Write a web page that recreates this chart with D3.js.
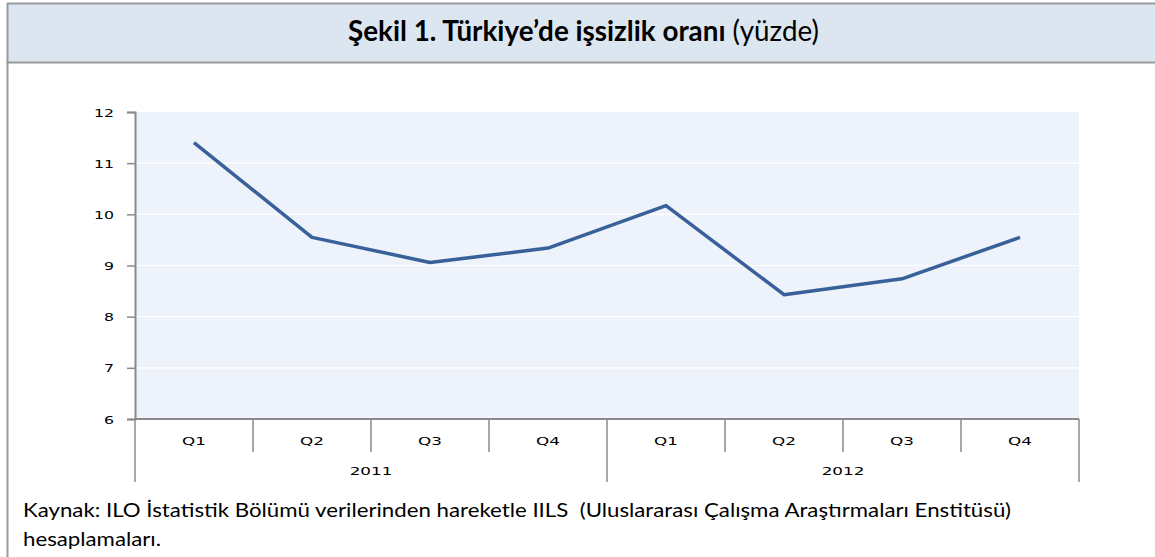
<!DOCTYPE html>
<html>
<head>
<meta charset="utf-8">
<script src="https://cdn.jsdelivr.net/npm/d3@7"></script>
<style>
  body { margin: 0; background: #fff; }
  svg { display: block; }
  text { white-space: pre; }
</style>
</head>
<body>
<div id="chart"></div>
<script>
const width = 1155;
const height = 557;

// data
const quarters = ['Q1', 'Q2', 'Q3', 'Q4', 'Q1', 'Q2', 'Q3', 'Q4'];
const years = ['2011', '2012'];
const rates = [11.4, 9.55, 9.06, 9.34, 10.17, 8.43, 8.74, 9.55];
const yTicks = [6, 7, 8, 9, 10, 11, 12];
const titleBold = 'Şekil 1. Türkiye’de işsizlik oranı';
const titleRest = ' (yüzde)';
const sourceLines = [
  'Kaynak: ILO İstatistik Bölümü verilerinden hareketle IILS  (Uluslararası Çalışma Araştırmaları Enstitüsü)',
  'hesaplamaları.'
];

const svg = d3.select('#chart').append('svg')
  .attr('width', width)
  .attr('height', height);

// frame + title band
svg.append('rect')
  .attr('x', 7.5).attr('y', 3.5)
  .attr('width', width).attr('height', 59)
  .attr('fill', '#dce6f1')
  .attr('stroke', '#9a9a9a')
  .attr('stroke-width', 2);
svg.append('line')
  .attr('x1', 7.5).attr('x2', 7.5)
  .attr('y1', 62).attr('y2', height)
  .attr('stroke', '#9a9a9a')
  .attr('stroke-width', 2);

const title = svg.append('g');
const titleText = title.append('text')
  .attr('font-family', 'Lato, sans-serif')
  .attr('font-size', 21)
  .attr('fill', '#000')
  .attr('text-anchor', 'middle');
titleText.append('tspan').attr('font-weight', 'bold').text(titleBold);
titleText.append('tspan').text(titleRest);
const tw = titleText.node().getComputedTextLength();
title.attr('transform', `translate(583.5,41) scale(${471 / tw},1.4)`);

// plot
const margin = {top: 112, left: 135, right: 1079, bottom: 419};
const x = d3.scaleBand().domain(d3.range(quarters.length)).range([margin.left, margin.right]);
const y = d3.scaleLinear().domain([6, 12]).range([margin.bottom, margin.top]);

svg.append('rect')
  .attr('x', margin.left).attr('y', margin.top)
  .attr('width', margin.right - margin.left)
  .attr('height', margin.bottom - margin.top)
  .attr('fill', '#eef2fa');

svg.append('g').selectAll('line')
  .data(yTicks.slice(1, -1))
  .join('line')
  .attr('x1', margin.left).attr('x2', margin.right)
  .attr('y1', (d) => y(d)).attr('y2', (d) => y(d))
  .attr('stroke', '#fff')
  .attr('stroke-width', 1.2);

const axisColor = '#8a8a8a';

// y axis
const yaxis = d3.axisLeft(y).tickValues(yTicks).tickFormat(d3.format('d')).tickSize(8);
const gy = svg.append('g')
  .attr('transform', `translate(${margin.left},0)`)
  .call(yaxis);
gy.select('.domain').attr('stroke', axisColor).attr('stroke-width', 2);
gy.selectAll('.tick line').attr('stroke', axisColor).attr('stroke-width', 1.5);
gy.selectAll('.tick text')
  .attr('x', null).attr('dy', null).attr('y', 4)
  .attr('transform', 'translate(-21,0) scale(1.5,1)')
  .attr('font-family', 'DejaVu Sans, sans-serif')
  .attr('font-size', 10.5)
  .attr('fill', '#000')
  .attr('text-anchor', 'end');

// x axis: category boundaries
const gx = svg.append('g');
gx.append('line')
  .attr('x1', margin.left).attr('x2', margin.right)
  .attr('y1', margin.bottom).attr('y2', margin.bottom)
  .attr('stroke', axisColor).attr('stroke-width', 2);
const bounds = d3.range(quarters.length + 1);
gx.selectAll('.bound').data(bounds).join('line')
  .attr('class', 'bound')
  .attr('x1', (i) => margin.left + i * x.bandwidth())
  .attr('x2', (i) => margin.left + i * x.bandwidth())
  .attr('y1', margin.bottom)
  .attr('y2', (i) => (i % 4 === 0 ? 482 : 452))
  .attr('stroke', axisColor).attr('stroke-width', 1.5);

gx.selectAll('.q').data(quarters).join('text')
  .attr('class', 'q')
  .attr('transform', (d, i) => `translate(${x(i) + x.bandwidth() / 2},445) scale(1.6,1)`)
  .attr('text-anchor', 'middle')
  .attr('font-family', 'DejaVu Sans, sans-serif')
  .attr('font-size', 10.5)
  .attr('fill', '#000')
  .text((d) => d);

gx.selectAll('.yr').data(years).join('text')
  .attr('class', 'yr')
  .attr('transform', (d, i) => `translate(${x(i * 4) + 2 * x.bandwidth()},475) scale(1.6,1)`)
  .attr('text-anchor', 'middle')
  .attr('font-family', 'DejaVu Sans, sans-serif')
  .attr('font-size', 10.5)
  .attr('fill', '#000')
  .text((d) => d);

// series line
const line = d3.line()
  .x((d, i) => x(i) + x.bandwidth() / 2)
  .y((d) => y(d));

svg.append('path')
  .datum(rates)
  .attr('d', line)
  .attr('fill', 'none')
  .attr('stroke', '#38619a')
  .attr('stroke-width', 3.5)
  .attr('stroke-linejoin', 'round');

// source note, stretched to the width it has in the picture
const note = svg.append('g');
note.selectAll('text')
  .data(sourceLines)
  .join('text')
  .attr('x', 0)
  .attr('y', (d, i) => i * 29.5)
  .attr('font-family', 'Lato, sans-serif')
  .attr('font-size', 19.5)
  .attr('fill', '#000')
  .text((d) => d);
const nw = note.select('text').node().getComputedTextLength();
note.attr('transform', `translate(23,517) scale(${989 / nw},1)`);
</script>
</body>
</html>
